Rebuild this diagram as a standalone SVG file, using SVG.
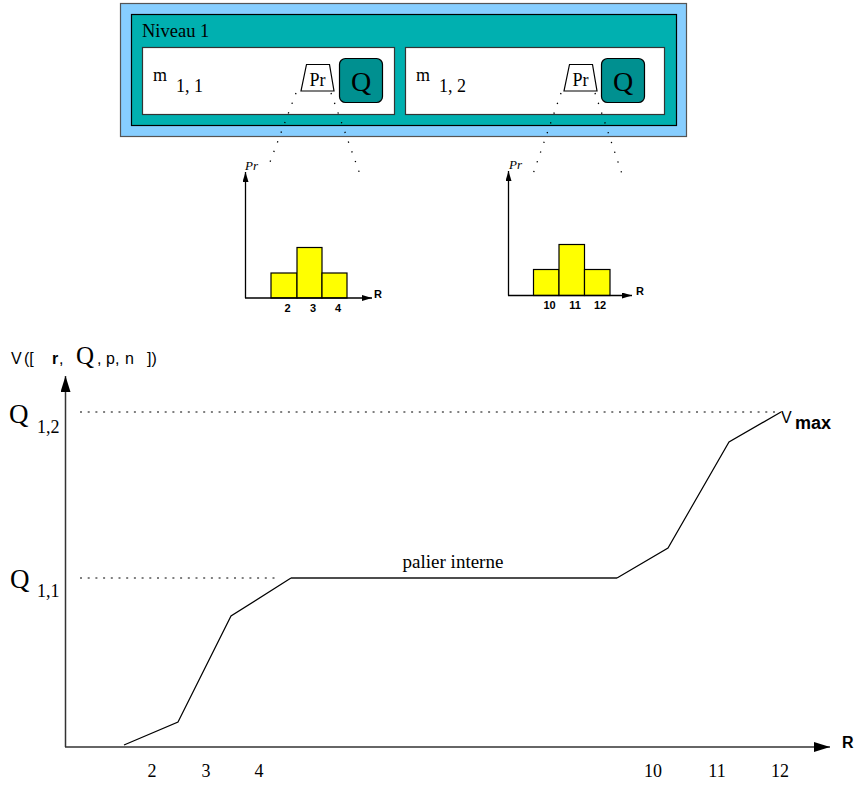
<svg xmlns="http://www.w3.org/2000/svg" width="857" height="785" viewBox="0 0 857 785">
<defs>
<style>
.serif{font-family:"Liberation Serif","Times New Roman",serif;fill:#000}
.sans{font-family:"Liberation Sans",Arial,sans-serif;fill:#000}
.b{font-weight:bold}
.dot{fill:none;stroke:#000;stroke-width:1.3;stroke-dasharray:1.3,9}
.gdot{fill:none;stroke:#000;stroke-width:1;stroke-dasharray:2,5.7}
.bar{fill:#ffff00;stroke:#000;stroke-width:1.2}
.ax{fill:none;stroke:#000;stroke-width:1.3}
.bax{fill:none;stroke:#333;stroke-width:1.5}
.curve{fill:none;stroke:#000;stroke-width:1.2}
</style>
<marker id="sa" viewBox="0 0 10 6" refX="10" refY="3" markerWidth="10" markerHeight="6" markerUnits="userSpaceOnUse" orient="auto"><path d="M0,0 L10,3 L0,6 z" fill="#000"/></marker>
<marker id="ba" viewBox="0 0 16 10" refX="16" refY="5" markerWidth="16" markerHeight="10" markerUnits="userSpaceOnUse" orient="auto"><path d="M0,0 L16,5 L0,10 z" fill="#000"/></marker>
</defs>
<rect width="857" height="785" fill="#fff"/>

<g id="niveau1">
<rect x="120.5" y="3.5" width="566" height="133" fill="#87ceff" stroke="#555" stroke-width="1.2"/>
<rect x="131.5" y="14.5" width="545" height="111" fill="#00b0b0" stroke="#000" stroke-width="1.2"/>
<text class="serif" x="142" y="37" font-size="18.5">Niveau 1</text>
</g>

<g id="m11">
<rect x="142.5" y="47.5" width="252" height="67" fill="#fff" stroke="#333" stroke-width="1.2"/>
<text class="serif" x="153" y="81" font-size="18">m</text>
<text class="serif" x="176" y="92" font-size="18">1, 1</text>
<g id="pr11">
<path d="M306.5,64.5 L329.5,64.5 L334,91 L301,91 Z" fill="#fff" stroke="#000" stroke-width="1.2"/>
<text class="serif" x="317.5" y="86" font-size="18" text-anchor="middle">Pr</text>
</g>
<g id="q11">
<rect x="339.5" y="58.5" width="43" height="44" rx="6" fill="#009090" stroke="#000" stroke-width="1.2"/>
<text class="serif" x="361" y="91" font-size="28" text-anchor="middle">Q</text>
</g>
</g>

<g id="m12">
<rect x="405.5" y="47.5" width="259" height="67" fill="#fff" stroke="#333" stroke-width="1.2"/>
<text class="serif" x="416" y="81" font-size="18">m</text>
<text class="serif" x="439" y="92" font-size="18">1, 2</text>
<g id="pr12">
<path d="M569.5,64.5 L592.5,64.5 L597,91 L564,91 Z" fill="#fff" stroke="#000" stroke-width="1.2"/>
<text class="serif" x="580.5" y="86" font-size="18" text-anchor="middle">Pr</text>
</g>
<g id="q12">
<rect x="601.5" y="58.5" width="43" height="44" rx="6" fill="#009090" stroke="#000" stroke-width="1.2"/>
<text class="serif" x="623" y="91" font-size="28" text-anchor="middle">Q</text>
</g>
</g>

<g id="connectors">
<line class="dot" x1="296" y1="93" x2="267" y2="170"/>
<line class="dot" x1="331" y1="93" x2="362" y2="180"/>
<line class="dot" x1="561" y1="93" x2="532" y2="177"/>
<line class="dot" x1="595" y1="93" x2="624" y2="180"/>
</g>

<g id="hist1">
<rect class="bar" x="271" y="273" width="26" height="25"/>
<rect class="bar" x="297" y="247.5" width="25" height="50.5"/>
<rect class="bar" x="322" y="273" width="25" height="25"/>
<line class="ax" x1="245.5" y1="298" x2="245.5" y2="172" marker-end="url(#sa)"/>
<line class="ax" x1="245" y1="298" x2="372" y2="298" marker-end="url(#sa)"/>
<text class="serif" x="245" y="170" font-size="13" font-style="italic">Pr</text>
<text class="sans b" x="374" y="298" font-size="11">R</text>
<text class="sans b" x="287.5" y="312" font-size="11" text-anchor="middle">2</text>
<text class="sans b" x="313" y="312" font-size="11" text-anchor="middle">3</text>
<text class="sans b" x="338" y="312" font-size="11" text-anchor="middle">4</text>
</g>

<g id="hist2">
<rect class="bar" x="533.5" y="269.5" width="25.5" height="26"/>
<rect class="bar" x="559" y="244.5" width="25.5" height="51"/>
<rect class="bar" x="584.5" y="269.5" width="25.5" height="26"/>
<line class="ax" x1="508.5" y1="295.5" x2="508.5" y2="171" marker-end="url(#sa)"/>
<line class="ax" x1="508" y1="295.5" x2="632" y2="295.5" marker-end="url(#sa)"/>
<text class="serif" x="509" y="169" font-size="13" font-style="italic">Pr</text>
<text class="sans b" x="636" y="295" font-size="11">R</text>
<text class="sans b" x="549.5" y="309" font-size="11" text-anchor="middle">10</text>
<text class="sans b" x="575" y="309" font-size="11" text-anchor="middle">11</text>
<text class="sans b" x="600" y="309" font-size="11" text-anchor="middle">12</text>
</g>

<g id="graph">
<line class="bax" x1="65.5" y1="747" x2="65.5" y2="376" marker-end="url(#ba)"/>
<line class="bax" x1="65" y1="747" x2="830" y2="747" marker-end="url(#ba)"/>
<text y="364" font-size="16"><tspan class="sans" x="11">V</tspan><tspan class="sans" x="24">([</tspan><tspan class="sans b" x="52">r</tspan><tspan class="sans" x="59">,</tspan><tspan class="serif" x="76" font-size="25">Q</tspan><tspan class="sans" x="97">,</tspan><tspan class="sans" x="106">p,</tspan><tspan class="sans" x="125">n</tspan><tspan class="sans" x="147">])</tspan></text>
<line class="gdot" x1="80" y1="412" x2="778" y2="412"/>
<line class="gdot" x1="80" y1="578" x2="280" y2="578"/>
<text class="serif" x="9" y="423" font-size="27">Q</text>
<text class="serif" x="37" y="433" font-size="18">1,2</text>
<text class="serif" x="10" y="588" font-size="27">Q</text>
<text class="serif" x="37" y="597" font-size="18">1,1</text>
<polyline class="curve" points="124,745 178,722 231,616 291,578"/>
<line x1="291" y1="578" x2="617" y2="578" stroke="#4d4d4d" stroke-width="2"/>
<polyline class="curve" points="617,578 668,548 729,442 781,412"/>
<text class="serif" x="453" y="568" font-size="19" text-anchor="middle">palier interne</text>
<text class="sans" x="781" y="423" font-size="16">V</text>
<text class="sans b" x="795" y="429" font-size="18">max</text>
<text class="sans b" x="842" y="748" font-size="16">R</text>
<text class="serif" x="152" y="777" font-size="18" text-anchor="middle">2</text>
<text class="serif" x="206" y="777" font-size="18" text-anchor="middle">3</text>
<text class="serif" x="259" y="777" font-size="18" text-anchor="middle">4</text>
<text class="serif" x="653" y="777" font-size="18" text-anchor="middle">10</text>
<text class="serif" x="717" y="777" font-size="18" text-anchor="middle">11</text>
<text class="serif" x="780" y="777" font-size="18" text-anchor="middle">12</text>
</g>
</svg>
